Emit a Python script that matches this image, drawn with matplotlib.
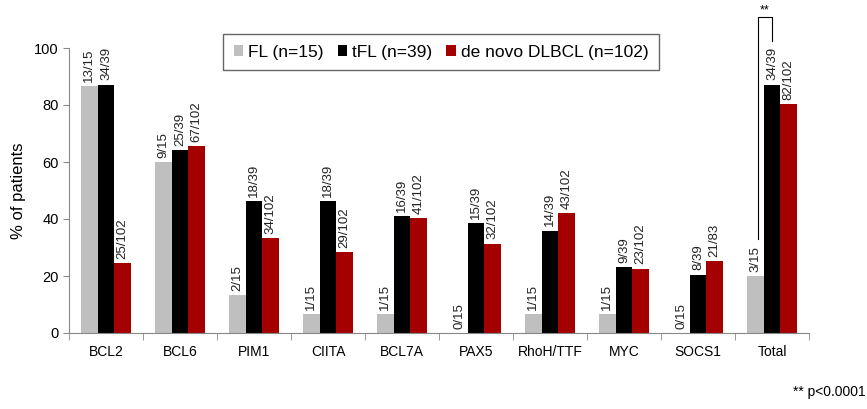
import matplotlib.pyplot as plt
import numpy as np

plt.rcParams['font.family'] = ['Liberation Sans', 'DejaVu Sans']

genes = ["BCL2", "BCL6", "PIM1", "CIITA", "BCL7A", "PAX5", "RhoH/TTF", "MYC", "SOCS1", "Total"]

fl_pos = [13, 9, 2, 1, 1, 0, 1, 1, 0, 3]
fl_n = [15, 15, 15, 15, 15, 15, 15, 15, 15, 15]
tfl_pos = [34, 25, 18, 18, 16, 15, 14, 9, 8, 34]
tfl_n = [39, 39, 39, 39, 39, 39, 39, 39, 39, 39]
dl_pos = [25, 67, 34, 29, 41, 32, 43, 23, 21, 82]
dl_n = [102, 102, 102, 102, 102, 102, 102, 102, 83, 102]

series = [
    ("FL (n=15)", fl_pos, fl_n, "#bfbfbf"),
    ("tFL (n=39)", tfl_pos, tfl_n, "#000000"),
    ("de novo DLBCL (n=102)", dl_pos, dl_n, "#a50000"),
]

fig = plt.figure(figsize=(8.67, 4.09), dpi=100)
ax = fig.add_axes([69 / 867, 1 - 333 / 409, 740 / 867, 285 / 409])

x = np.arange(len(genes))
w = 0.225
for i, (name, pos, n, color) in enumerate(series):
    vals = 100 * np.array(pos) / np.array(n)
    xs = x + (i - 1) * w
    ax.bar(xs, vals, width=w, color=color, label=name, linewidth=0)
    for xi, v, p, nn in zip(xs, vals, pos, n):
        ax.text(xi, v + 1.5, f"{p}/{nn}", rotation=90, ha="center", va="bottom",
                fontsize=9.5, color="#222222")

ax.set_xlim(-0.5, len(genes) - 0.5)
ax.set_ylim(0, 100)
ax.set_yticks([0, 20, 40, 60, 80, 100])
ax.set_xticks(x)
ax.set_xticklabels(genes)
ax.set_xticks(np.arange(-0.5, len(genes)), minor=True)
ax.tick_params(axis="x", which="major", length=0, labelsize=10, pad=9)
ax.tick_params(axis="x", which="minor", length=5, color="#888888", direction="out")
ax.tick_params(axis="y", length=4, color="#888888", labelsize=10.5)
ax.set_ylabel("% of patients", fontsize=12, labelpad=6)
for side in ["top", "right"]:
    ax.spines[side].set_visible(False)
for side in ["left", "bottom"]:
    ax.spines[side].set_color("#888888")

# significance bracket FL vs tFL (Total)
xl = x[-1] - w * 0.85
xr = x[-1]
ax.plot([xl, xl, xr, xr], [33, 111, 111, 102.5], color="black", lw=0.8, clip_on=False)
ax.text((xl + xr) / 2, 111.2, "**", ha="center", va="bottom", fontsize=9)

leg = ax.legend(loc="upper center", bbox_to_anchor=(0.503, 1.078), ncol=3, fontsize=12.5,
                frameon=True, fancybox=False, handlelength=0.55, handleheight=0.55,
                handletextpad=0.3, columnspacing=0.8, borderpad=0.6)
leg.get_frame().set_edgecolor("#404040")
leg.get_frame().set_linewidth(1.0)

fig.text(0.998, 0.025, "** p<0.0001", ha="right", va="bottom", fontsize=10)

fig.savefig("out.png", dpi=100)
